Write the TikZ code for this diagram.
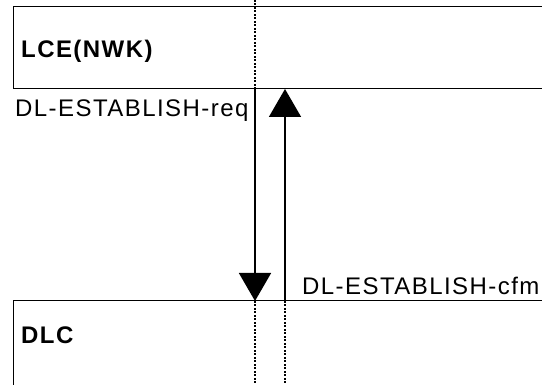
\documentclass[tikz,border=0pt]{standalone}
\usepackage{fontspec}
\setmainfont{Liberation Sans}
\newfontfamily\spacedfont[LetterSpace=6]{Liberation Sans}
\usetikzlibrary{arrows.meta}
\begin{document}
\begin{tikzpicture}[x=1pt, y=-1pt, line cap=butt, line join=miter,
	boxline/.style={line width=1pt},
	lifeline/.style={line width=1.8pt, dash pattern=on 2pt off 1.5pt},
	msg/.style={line width=1.6pt, -{Triangle[length=28pt, width=32pt]}},
	lbl/.style={inner sep=0pt, font=\spacedfont\fontsize{24}{28}\selectfont},
	title/.style={inner sep=0pt, font=\spacedfont\bfseries\fontsize{24}{28}\selectfont}]
	
	\useasboundingbox (0,0) rectangle (542,385);
	
	% Define points
	\coordinate (NT) at (13,7);
	\coordinate (NB) at (13,89);
	\coordinate (DT) at (13,301);
	\coordinate (ReqS) at (255,89);
	\coordinate (ReqE) at (255,301);
	\coordinate (CfmS) at (285,301);
	\coordinate (CfmE) at (285,89);
	
	% Draw entity boxes (open to the right and below)
	\draw[boxline] (542,7) -- (NT) -- (NB) -- (542,89);
	\draw[boxline] (542,301) -- (DT) -- (13,385);
	
	% Draw lifelines
	\draw[lifeline] (255,0) -- (ReqS);
	\foreach \x in {255, 285} {
		\draw[lifeline] (\x,301) -- (\x,385);
	}
	
	% Draw messages
	\draw[msg] (ReqS) -- (ReqE);
	\draw[msg] (CfmS) -- (CfmE);
	
	% Labels
	\node[title, anchor=west] (nwk) at (21,51) {LCE(NWK)};
	\node[title, anchor=west] (dlc) at (21,335) {DLC};
	\node[lbl, anchor=base west] (req) at (15,116.5) {DL-ESTABLISH-req};
	\node[lbl, anchor=base west] (cfm) at (302,295) {DL-ESTABLISH-cfm};
	
\end{tikzpicture}
\end{document}
